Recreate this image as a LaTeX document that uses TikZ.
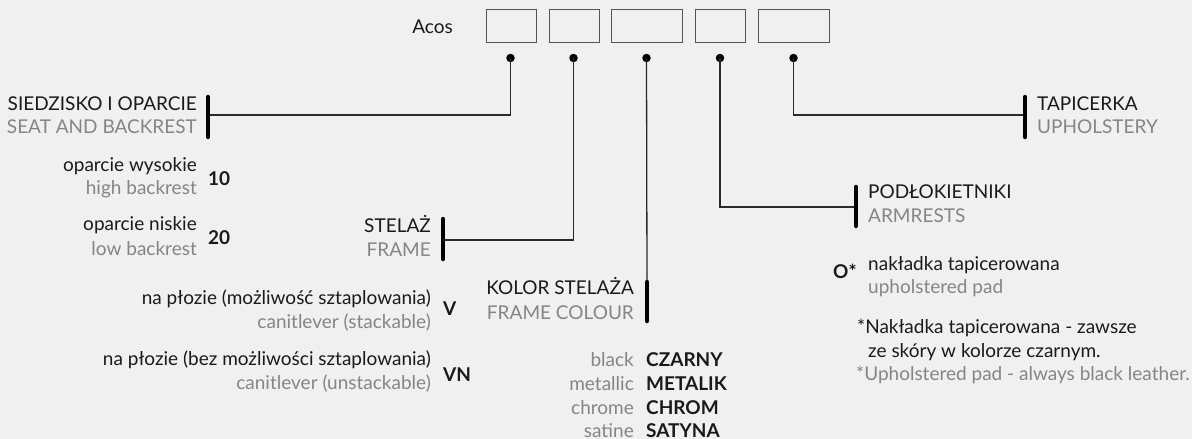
\documentclass[tikz,border=0pt]{standalone}
\usepackage{fontspec}
\setmainfont{Lato}
\definecolor{bgc}{HTML}{F0F0F0}
\definecolor{txt}{HTML}{1A1A1A}
\definecolor{gtx}{HTML}{858585}
\definecolor{lnc}{HTML}{2A2A2A}
\definecolor{bxc}{HTML}{555555}
\tikzset{
  pl/.style={text=txt, font=\fontsize{19}{22}\selectfont, inner sep=0pt},
  en/.style={text=gtx, font=\fontsize{19}{22}\selectfont, inner sep=0pt},
  codetxt/.style={text=txt, font=\fontsize{19}{22}\selectfont\bfseries, inner sep=0pt},
  slot/.style={draw=bxc, line width=1pt},
  pin/.style={circle, fill=black, inner sep=0pt, minimum size=8.5pt},
  bar/.style={line width=4.5pt, line cap=round, draw=black},
  conn/.style={line width=1.3pt, draw=lnc}
}
\begin{document}
\begin{tikzpicture}[x=1pt,y=-1pt]
\path[fill=bgc] (0,0) rectangle (1192,439);
\useasboundingbox (0,0) rectangle (1192,439);
% code slots
\node[pl, anchor=base east] (acos) at (453,33.5) {Acos};
\draw[slot] (486,9) rectangle (536,42);
\draw[slot] (549,9) rectangle (599,42);
\draw[slot] (611,9) rectangle (682,42);
\draw[slot] (695,9) rectangle (745,42);
\draw[slot] (758,9) rectangle (829,42);
\node[pin] (d1) at (510.5,58) {};
\node[pin] (d2) at (573.5,58) {};
\node[pin] (d3) at (646.5,58) {};
\node[pin] (d4) at (720,58) {};
\node[pin] (d5) at (793.5,58) {};
% bars
\coordinate (b1t) at (208,97); \coordinate (b1b) at (208,137); \coordinate (b1m) at (208,115);
\coordinate (b2t) at (443,219); \coordinate (b2b) at (443,259); \coordinate (b2m) at (443,240);
\coordinate (b3t) at (647,282); \coordinate (b3b) at (647,321);
\coordinate (b4t) at (856,187); \coordinate (b4b) at (856,226); \coordinate (b4m) at (856,207);
\coordinate (b5t) at (1025,97); \coordinate (b5b) at (1025,137); \coordinate (b5m) at (1025,115);
\draw[conn] (d1.center) |- (b1m);
\draw[conn] (d2.center) |- (b2m);
\draw[conn] (d3.center) -- (b3t);
\draw[conn] (d4.center) |- (b4m);
\draw[conn] (d5.center) |- (b5m);
\draw[bar] (b1t) -- (b1b);
\draw[bar] (b2t) -- (b2b);
\draw[bar] (b3t) -- (b3b);
\draw[bar] (b4t) -- (b4b);
\draw[bar] (b5t) -- (b5b);
% seat and backrest
\node[pl, anchor=base east] (siedz) at (197,110.5) {SIEDZISKO I OPARCIE};
\node[en, anchor=base east] (seat) at (197,133.5) {SEAT AND BACKREST};
\node[pl, anchor=base east] (wys) at (197,171.5) {oparcie wysokie};
\node[en, anchor=base east] (high) at (197,194.5) {high backrest};
\node[codetxt, anchor=base west] (c10) at (208,185) {10};
\node[pl, anchor=base east] (nis) at (197,230.5) {oparcie niskie};
\node[en, anchor=base east] (low) at (197,255) {low backrest};
\node[codetxt, anchor=base west] (c20) at (208,244) {20};
% frame
\node[pl, anchor=base east] (stel) at (431,232.5) {STELAŻ};
\node[en, anchor=base east] (frame) at (431,256) {FRAME};
\node[pl, anchor=base east] (plz1) at (431,304) {na płozie (możliwość sztaplowania)};
\node[en, anchor=base east] (cant1) at (431,328) {canitlever (stackable)};
\node[codetxt, anchor=base west] (cV) at (443,315) {V};
\node[pl, anchor=base east] (plz2) at (431,365) {na płozie (bez możliwości sztaplowania)};
\node[en, anchor=base east] (cant2) at (431,389) {canitlever (unstackable)};
\node[codetxt, anchor=base west] (cVN) at (443,381) {VN};
% frame colour
\node[pl, anchor=base east] (kol) at (634,294) {KOLOR STELAŻA};
\node[en, anchor=base east] (fcol) at (634,319) {FRAME COLOUR};
\node[en, anchor=base east] (e1) at (634,366) {black};
\node[codetxt, anchor=base west] (p1) at (646,366) {CZARNY};
\node[en, anchor=base east] (e2) at (634,390) {metallic};
\node[codetxt, anchor=base west] (p2) at (646,390) {METALIK};
\node[en, anchor=base east] (e3) at (634,414) {chrome};
\node[codetxt, anchor=base west] (p3) at (646,414) {CHROM};
\node[en, anchor=base east] (e4) at (634,437) {satine};
\node[codetxt, anchor=base west] (p4) at (646,437) {SATYNA};
% armrests
\node[pl, anchor=base west] (podl) at (868,198) {PODŁOKIETNIKI};
\node[en, anchor=base west] (arm) at (868,222) {ARMRESTS};
\node[codetxt, anchor=base west] (cO) at (833,278) {O*};
\node[pl, anchor=base west] (nakl) at (868,270) {nakładka tapicerowana};
\node[en, anchor=base west] (upad) at (868,293) {upholstered pad};
\node[pl, anchor=base west] (n1) at (857,333) {*Nakładka tapicerowana - zawsze};
\node[pl, anchor=base west] (n2) at (868,357) {ze skóry w kolorze czarnym.};
\node[en, anchor=base west] (n3) at (856,380) {*Upholstered pad - always black leather.};
% upholstery
\node[pl, anchor=base west] (tap) at (1037,110.5) {TAPICERKA};
\node[en, anchor=base west] (uph) at (1037,133.5) {UPHOLSTERY};
\end{tikzpicture}
\end{document}
